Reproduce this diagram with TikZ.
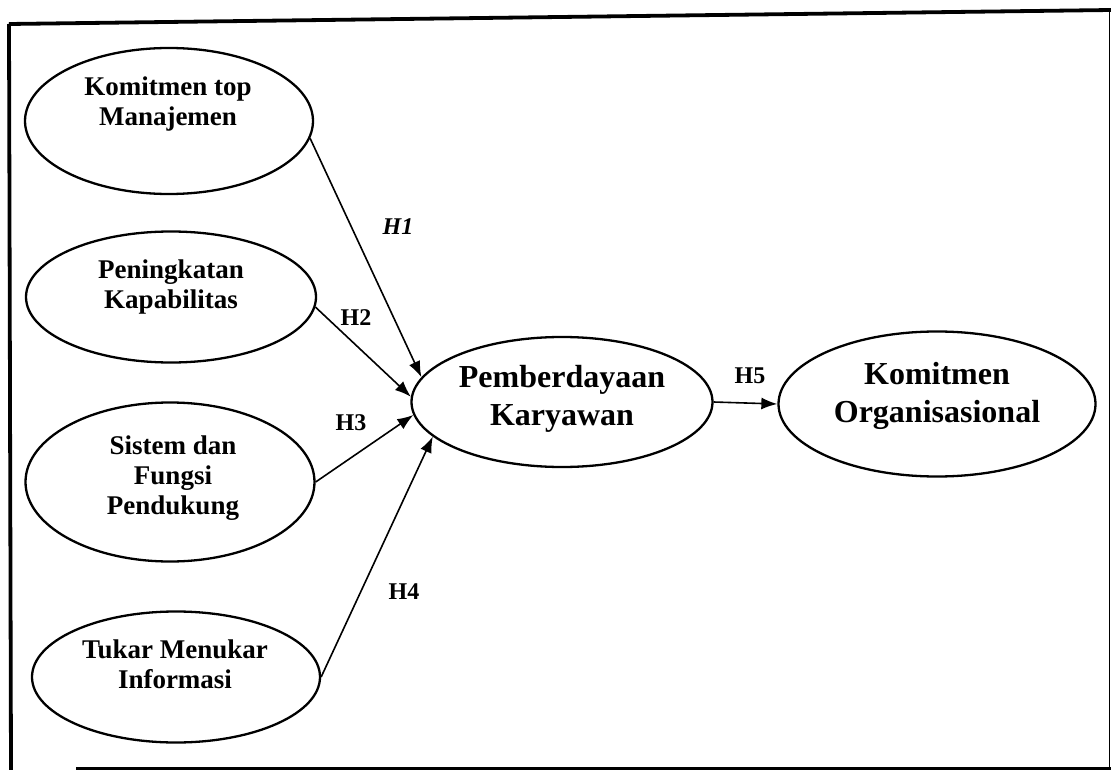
\documentclass[tikz,border=0pt]{standalone}
\usepackage{fontspec}
\setmainfont{Liberation Serif}
\usetikzlibrary{shapes.geometric,arrows.meta}
\tikzset{
  var/.style={draw, ellipse, line width=2.3pt, inner sep=0pt},
  smalltxt/.style={font=\bfseries\fontsize{27}{30}\selectfont, align=center, inner sep=0pt},
  bigtxt/.style={font=\bfseries\fontsize{32}{38}\selectfont, align=center, inner sep=0pt},
  hyp/.style={font=\bfseries\fontsize{24}{28}\selectfont, inner sep=0pt},
  link/.style={line width=1.6pt, -{Latex[length=16pt,width=12pt]}},
  frame/.style={line width=3.8pt}
}
\begin{document}
\begin{tikzpicture}[x=1pt, y=-1pt]
\useasboundingbox (0,0) rectangle (1111,770);

% outer frame
\coordinate (tl) at (9,24);
\coordinate (tr) at (1111,10);
\coordinate (bl) at (11,770);
\coordinate (br) at (1111,768);
\coordinate (bs) at (76,768);
\coordinate (rt) at (1109.5,10);
\coordinate (rb) at (1109.5,768);
\draw[frame] (tl) -- (tr);
\draw[frame] (tl) -- (bl);
\draw[line width=3pt] (bs) -- (br);
\draw[line width=1.6pt] (rt) -- (rb);

% variables (ellipses)
\node[var, minimum width=288pt, minimum height=146pt] (kt) at (169,121) {};
\node[var, minimum width=290pt, minimum height=131pt] (pk) at (171,297) {};
\node[var, minimum width=289pt, minimum height=159pt] (sf) at (170,482) {};
\node[var, minimum width=288pt, minimum height=131pt] (tm) at (176,677) {};
\node[var, minimum width=301pt, minimum height=130pt] (pkw) at (562,402) {};
\node[var, minimum width=317pt, minimum height=145pt] (ko) at (937,404) {};

% texts inside the ellipses
\node[smalltxt] (kt-t) at (168,104) {Komitmen top\\Manajemen};
\node[smalltxt] (pk-t) at (171,287) {Peningkatan\\Kapabilitas};
\node[smalltxt] (sf-t) at (173,478) {Sistem dan\\Fungsi\\Pendukung};
\node[smalltxt] (tm-t) at (175,664) {Tukar Menukar\\Informasi};
\node[bigtxt] (pkw-t) at (562,399) {Pemberdayaan\\Karyawan};
\node[bigtxt] (ko-t) at (937,396) {Komitmen\\Organisasional};

% hypothesised paths
\draw[link] (kt.-7) -- (pkw.170);
\draw[link] (pk.-4) -- (pkw.178);
\draw[link] (sf.0) -- (pkw.185);
\draw[link] (tm.0) -- (pkw.195);
\draw[link] (pkw.east) -- (ko.west);

% path labels
\node[hyp] (h1) at (398,227) {\itshape H1};
\node[hyp] (h2) at (356,318) {H2};
\node[hyp] (h3) at (351,423) {H3};
\node[hyp] (h4) at (404,592) {H4};
\node[hyp] (h5) at (750,376) {H5};
\end{tikzpicture}
\end{document}
